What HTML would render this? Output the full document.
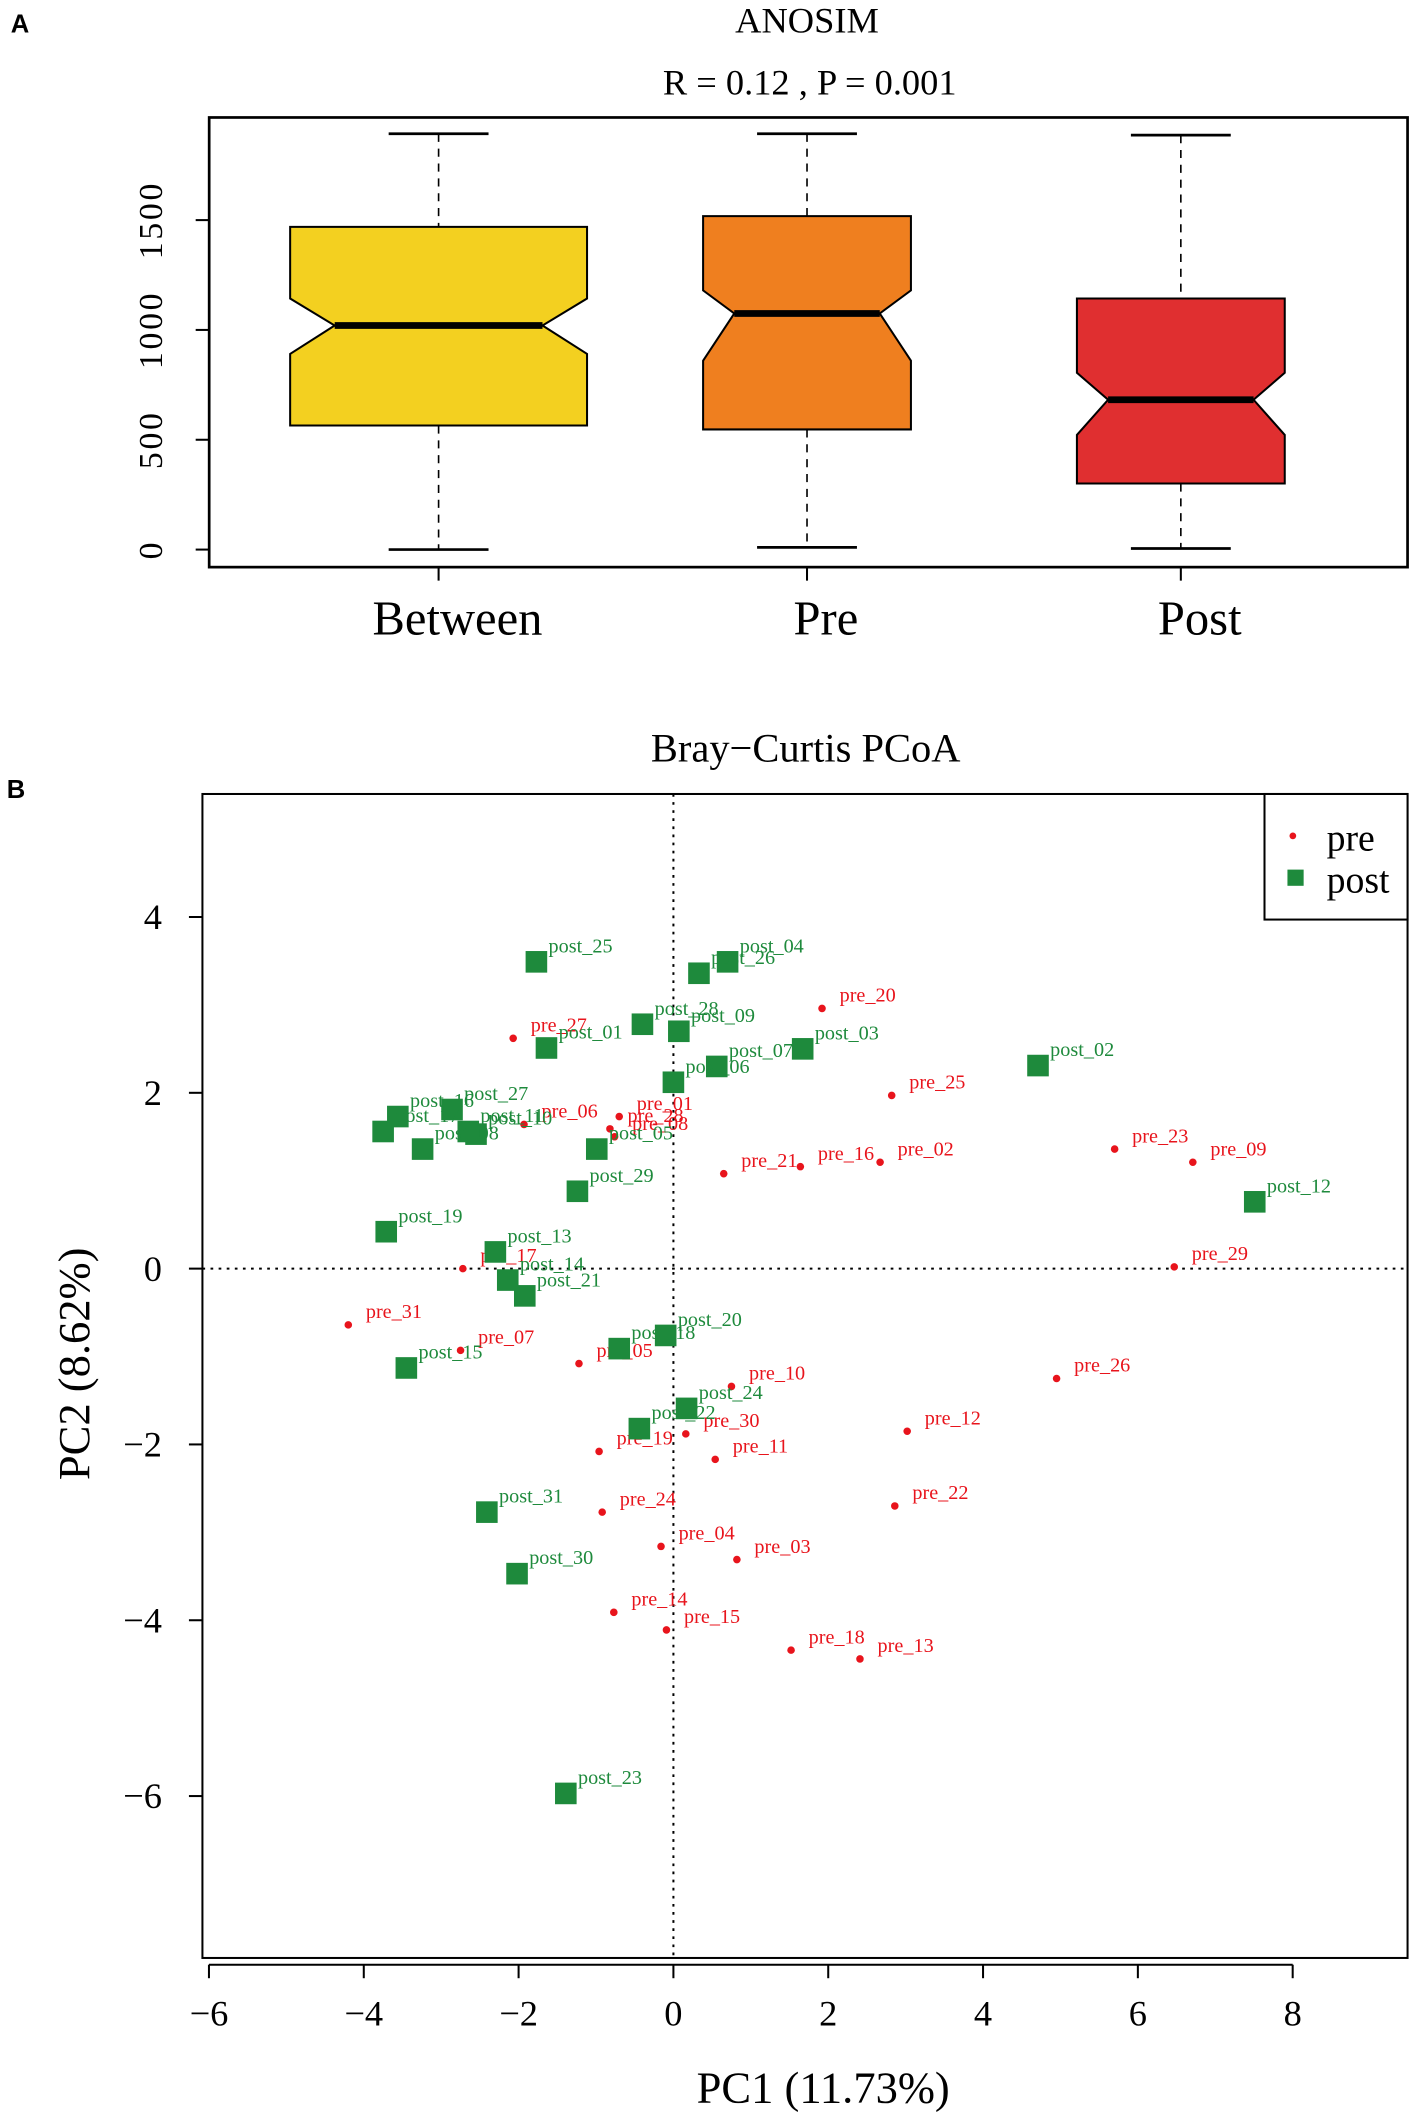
<!DOCTYPE html>
<html><head><meta charset="utf-8">
<style>
html,body{margin:0;padding:0;background:#fff;}
svg{display:block;}
text{font-family:"Liberation Serif",serif;}
text.sans{font-family:"Liberation Sans",sans-serif;font-weight:bold;}
</style></head>
<body>
<svg id="fig" width="1417" height="2120" viewBox="0 0 1050 1570" preserveAspectRatio="none" xmlns="http://www.w3.org/2000/svg">
<g id="panelA"></g>
<g id="panelB"></g>
</svg>
<script>
// ---- Panel A data ----
const boxCategories = ["Between", "Pre", "Post"];
const boxColors = ["#f3d020", "#ef7f1f", "#e02f30"];
const boxMin = [0, 10, 5];
const boxQ1 = [565, 547, 301];
const boxMedian = [1020, 1075, 682];
const boxQ3 = [1469, 1518, 1143];
const boxMax = [1893, 1893, 1887];
const boxNotchLo = [891, 860, 522];
const boxNotchHi = [1143, 1180, 805];
const yTicksA = [0, 500, 1000, 1500];

// ---- Panel B data ----
const postNames = ["post_25","post_04","post_26","post_28","post_09","post_01","post_03","post_07","post_06","post_02","post_27","post_16","post_17","post_10","post_11","post_08","post_05","post_29","post_19","post_12","post_13","post_14","post_21","post_20","post_18","post_15","post_24","post_22","post_31","post_30","post_23"];
const postX = [-1.77,0.70,0.33,-0.40,0.07,-1.64,1.67,0.56,0.00,4.71,-2.86,-3.56,-3.75,-2.55,-2.65,-3.24,-0.99,-1.24,-3.71,7.51,-2.30,-2.14,-1.92,-0.10,-0.70,-3.45,0.17,-0.44,-2.41,-2.02,-1.39];
const postY = [3.49,3.49,3.36,2.78,2.70,2.51,2.50,2.30,2.12,2.31,1.81,1.73,1.56,1.53,1.56,1.36,1.36,0.88,0.42,0.76,0.19,-0.13,-0.31,-0.76,-0.91,-1.13,-1.59,-1.82,-2.77,-3.47,-5.97];
const preNames = ["pre_20","pre_27","pre_25","pre_06","pre_01","pre_28","pre_08","pre_21","pre_16","pre_02","pre_23","pre_09","pre_29","pre_17","pre_31","pre_07","pre_05","pre_10","pre_26","pre_12","pre_30","pre_19","pre_11","pre_24","pre_22","pre_04","pre_03","pre_14","pre_15","pre_18","pre_13"];
const preX = [1.92,-2.07,2.82,-1.93,-0.70,-0.82,-0.76,0.65,1.64,2.67,5.70,6.71,6.47,-2.72,-4.20,-2.75,-1.22,0.75,4.95,3.02,0.16,-0.96,0.54,-0.92,2.86,-0.16,0.82,-0.77,-0.09,1.52,2.41];
const preY = [2.96,2.62,1.97,1.64,1.73,1.59,1.50,1.08,1.16,1.21,1.36,1.21,0.02,0.00,-0.64,-0.93,-1.08,-1.34,-1.25,-1.85,-1.88,-2.08,-2.17,-2.77,-2.70,-3.16,-3.31,-3.91,-4.11,-4.34,-4.44];
const xTicksB = [-6,-4,-2,0,2,4,6,8];
const yTicksB = [-6,-4,-2,0,2,4];

const NS = "http://www.w3.org/2000/svg";
function mk(parent, tag, attrs, txt){
  const e = document.createElementNS(NS, tag);
  for (const k in attrs) e.setAttribute(k, attrs[k]);
  if (txt !== undefined) e.textContent = txt;
  parent.appendChild(e);
  return e;
}

// ===== Panel A =====
const A = document.getElementById('panelA');
const yA = v => 407 - v * (244/1500);
const xCenters = [325, 598, 875];
const halfW = [110, 77, 77];
let el;
el = mk(A,'text',{x:8,y:24,'class':'sans','font-size':19},'A');


el = mk(A,'text',{x:598,y:24,'text-anchor':'middle','font-size':27},'ANOSIM');


el = mk(A,'text',{x:600,y:70,'text-anchor':'middle','font-size':27,'xml:space':'preserve'},'R =  0.12 ,  P =  0.001');


el = mk(A,'rect',{x:155,y:87,width:888,height:333,fill:'none',stroke:'#000','stroke-width':2});


yTicksA.forEach(t=>{
  const y = yA(t);
  el = mk(A,'line',{x1:145,x2:155,y1:y,y2:y,stroke:'#000','stroke-width':1.5});
  
  
  el = mk(A,'text',{x:0,y:0,transform:`translate(120 ${y}) rotate(-90)`,'text-anchor':'middle','font-size':25,'letter-spacing':2},String(t));
  
  
});
boxCategories.forEach((c,i)=>{
  const cx = xCenters[i], w = halfW[i], nw = w*0.7;
  const g = mk(A,'g',{});
  
  
  el = mk(g,'line',{x1:cx,x2:cx,y1:yA(boxMax[i]),y2:yA(boxQ3[i]),stroke:'#000','stroke-dasharray':'6 5','stroke-width':1.2});
  
  
  el = mk(g,'line',{x1:cx,x2:cx,y1:yA(boxQ1[i]),y2:yA(boxMin[i]),stroke:'#000','stroke-dasharray':'6 5','stroke-width':1.2});
  
  
  el = mk(g,'line',{x1:cx-37,x2:cx+37,y1:yA(boxMax[i]),y2:yA(boxMax[i]),stroke:'#000','stroke-width':2});
  
  
  el = mk(g,'line',{x1:cx-37,x2:cx+37,y1:yA(boxMin[i]),y2:yA(boxMin[i]),stroke:'#000','stroke-width':2});
  
  
  const pts = [[cx-w,yA(boxQ3[i])],[cx+w,yA(boxQ3[i])],[cx+w,yA(boxNotchHi[i])],[cx+nw,yA(boxMedian[i])],[cx+w,yA(boxNotchLo[i])],[cx+w,yA(boxQ1[i])],[cx-w,yA(boxQ1[i])],[cx-w,yA(boxNotchLo[i])],[cx-nw,yA(boxMedian[i])],[cx-w,yA(boxNotchHi[i])]];
  el = mk(g,'polygon',{points:pts.map(p=>p.join(',')).join(' '),fill:boxColors[i],stroke:'#000','stroke-width':1.5});
  
  
  el = mk(g,'line',{x1:cx-nw,x2:cx+nw,y1:yA(boxMedian[i]),y2:yA(boxMedian[i]),stroke:'#000','stroke-width':5});
  
  
  el = mk(A,'line',{x1:cx,x2:cx,y1:420,y2:430,stroke:'#000','stroke-width':1.5});
  
  
  el = mk(A,'text',{x:cx+14,y:470,'text-anchor':'middle','font-size':36},c);
  
  
});

// ===== Panel B =====
const B = document.getElementById('panelB');
const xB = v => 499 + v*57.36;
const yB = v => 939.5 - v*65.1;
el = mk(B,'text',{x:5,y:591,'class':'sans','font-size':19},'B');


el = mk(B,'text',{x:597,y:564,'text-anchor':'middle','font-size':30},'Bray\u2212Curtis PCoA');


el = mk(B,'rect',{x:150,y:588,width:893,height:862,fill:'none',stroke:'#000','stroke-width':1.5});


el = mk(B,'line',{x1:150,x2:1043,y1:yB(0),y2:yB(0),stroke:'#000','stroke-dasharray':'2 4','stroke-width':1.5});


el = mk(B,'line',{x1:xB(0),x2:xB(0),y1:588,y2:1450,stroke:'#000','stroke-dasharray':'2 4','stroke-width':1.5});


el = mk(B,'line',{x1:xB(-6),x2:xB(8),y1:1455,y2:1455,stroke:'#000','stroke-width':1.5});


xTicksB.forEach(t=>{
  el = mk(B,'line',{x1:xB(t),x2:xB(t),y1:1455,y2:1465,stroke:'#000','stroke-width':1.5});
  
  
  el = mk(B,'text',{x:xB(t),y:1500,'text-anchor':'middle','font-size':27},(t<0?'\u2212':'')+Math.abs(t));
  
  
});
yTicksB.forEach(t=>{
  el = mk(B,'line',{x1:140,x2:150,y1:yB(t),y2:yB(t),stroke:'#000','stroke-width':1.5});
  
  
  el = mk(B,'text',{x:120,y:yB(t)+9,'text-anchor':'end','font-size':27},(t<0?'\u2212':'')+Math.abs(t));
  
  
});
el = mk(B,'text',{x:0,y:0,transform:'translate(66 1010) rotate(-90)','text-anchor':'middle','font-size':33},'PC2 (8.62%)');


el = mk(B,'text',{x:610,y:1557,'text-anchor':'middle','font-size':33},'PC1 (11.73%)');



preNames.forEach((n,i)=>{
  const x = xB(preX[i]), y = yB(preY[i]);
  el = mk(B,'circle',{cx:x,cy:y,r:2.8,fill:'#e8141c'});
  
  
  el = mk(B,'text',{x:x+13,y:y-5,'font-size':15,fill:'#e8141c'},n);
  
  
});
postNames.forEach((n,i)=>{
  const x = xB(postX[i]), y = yB(postY[i]);
  el = mk(B,'rect',{x:x-8,y:y-8,width:16,height:16,fill:'#1e8a3c'});
  
  
  el = mk(B,'text',{x:x+9,y:y-7,'font-size':15,fill:'#1e8a3c'},n);
  
  
});

// legend
const L = mk(B,'g',{});


el = mk(L,'rect',{x:937,y:588,width:106,height:93,fill:'#fff',stroke:'#000','stroke-width':1.5});


el = mk(L,'circle',{cx:958,cy:619,r:2.5,fill:'#e8141c'});


el = mk(L,'text',{x:983,y:630,'font-size':28},'pre');


el = mk(L,'rect',{x:954,y:644,width:12,height:12,fill:'#1e8a3c'});


el = mk(L,'text',{x:983,y:661,'font-size':28},'post');


</script>
</body></html>
